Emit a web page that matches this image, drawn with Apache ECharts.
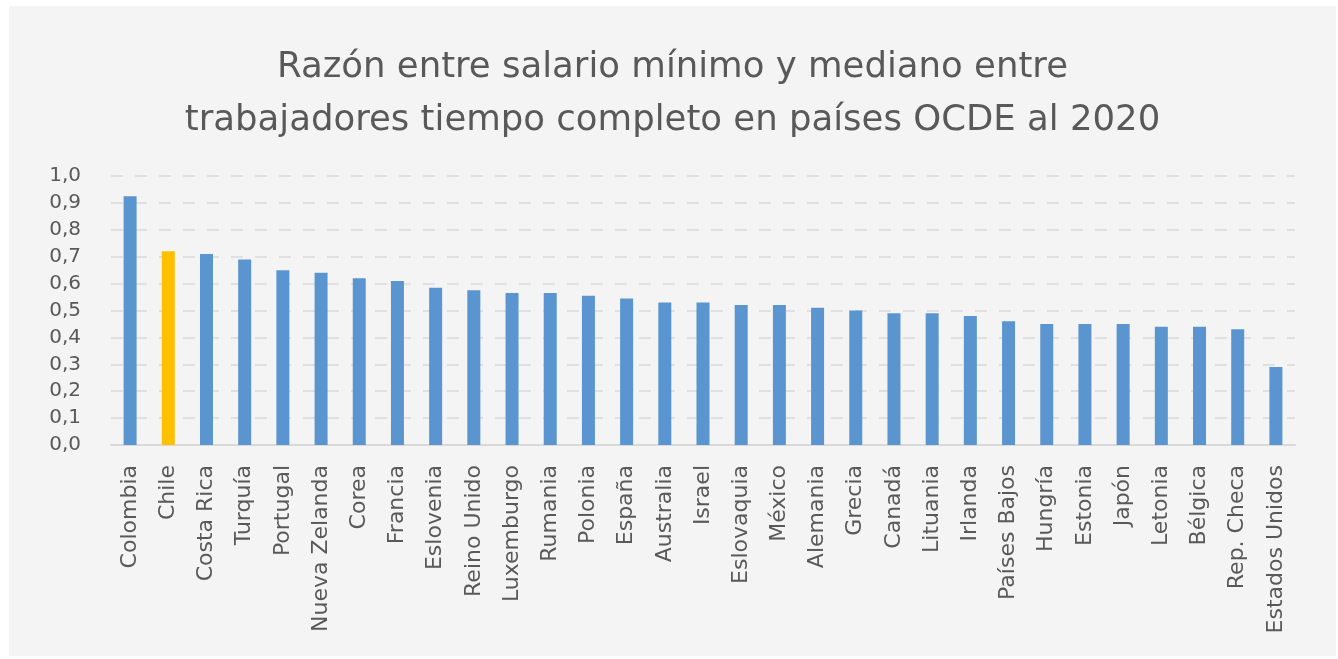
<!DOCTYPE html>
<html>
<head>
<meta charset="utf-8">
<script src="https://cdn.jsdelivr.net/npm/echarts@6/dist/echarts.min.js"></script>
<style>
    html, body { margin: 0; padding: 0; background: #ffffff; }
    #panel { position: absolute; left: 9px; top: 6px; width: 1327px; height: 650px; background: #f4f4f4; }
    #chart { width: 1327px; height: 650px; }
</style>
</head>
<body>
<div id="panel"><div id="chart"></div></div>
<script>
// pais / razon salario minimo sobre mediano (OCDE 2020)
const countries = ['Colombia', 'Chile', 'Costa Rica', 'Turquía', 'Portugal', 'Nueva Zelanda', 'Corea', 'Francia',
    'Eslovenia', 'Reino Unido', 'Luxemburgo', 'Rumania', 'Polonia', 'España', 'Australia', 'Israel',
    'Eslovaquia', 'México', 'Alemania', 'Grecia', 'Canadá', 'Lituania', 'Irlanda', 'Países Bajos',
    'Hungría', 'Estonia', 'Japón', 'Letonia', 'Bélgica', 'Rep. Checa', 'Estados Unidos']
const ratios = [0.925, 0.72, 0.71, 0.69, 0.65, 0.64, 0.62, 0.61,
    0.585, 0.575, 0.565, 0.565, 0.555, 0.545, 0.53, 0.53,
    0.52, 0.52, 0.51, 0.50, 0.49, 0.49, 0.48, 0.46,
    0.45, 0.45, 0.45, 0.44, 0.44, 0.43, 0.29]
const highlight = 'Chile'
const titleLines = ['Razón entre salario mínimo y mediano entre', 'trabajadores tiempo completo en países OCDE al 2020']

const textColor = '#595959'
const fontName = 'DejaVu Sans'

function buildOption() {
    const barData = countries.map((name, i) => ({
        value: ratios[i],
        itemStyle: { color: name === highlight ? '#ffc000' : '#5b95cf' }
    }))
    return {
        animation: false,
        title: {
            text: titleLines.join('\n'),
            left: 'center',
            top: 30,
            textStyle: {
                fontFamily: fontName,
                fontSize: 35.5,
                fontWeight: 'normal',
                color: textColor,
                lineHeight: 53
            }
        },
        grid: { left: 102, right: 41, top: 170, bottom: 211, containLabel: false },
        xAxis: {
            type: 'category',
            data: countries,
            axisLine: { lineStyle: { color: '#d9d9d9', width: 2 } },
            axisTick: { show: false },
            axisLabel: {
                rotate: 90,
                interval: 0,
                margin: 20,
                fontFamily: fontName,
                fontSize: 22,
                color: textColor
            }
        },
        yAxis: {
            type: 'value',
            min: 0,
            max: 1,
            interval: 0.1,
            axisLine: { show: false },
            axisTick: { show: false },
            splitLine: { lineStyle: { color: '#d9d9d9', type: [12, 12], width: 1.5 } },
            axisLabel: {
                margin: 30,
                fontFamily: fontName,
                fontSize: 20,
                color: textColor,
                formatter: v => v.toFixed(1).replace('.', ',')
            }
        },
        series: [{
            type: 'bar',
            data: barData,
            barWidth: 13
        }]
    }
}

document.addEventListener('DOMContentLoaded', function() {
    const chart = echarts.init(document.getElementById('chart'))
    chart.setOption(buildOption())
})
</script>
</body>
</html>
